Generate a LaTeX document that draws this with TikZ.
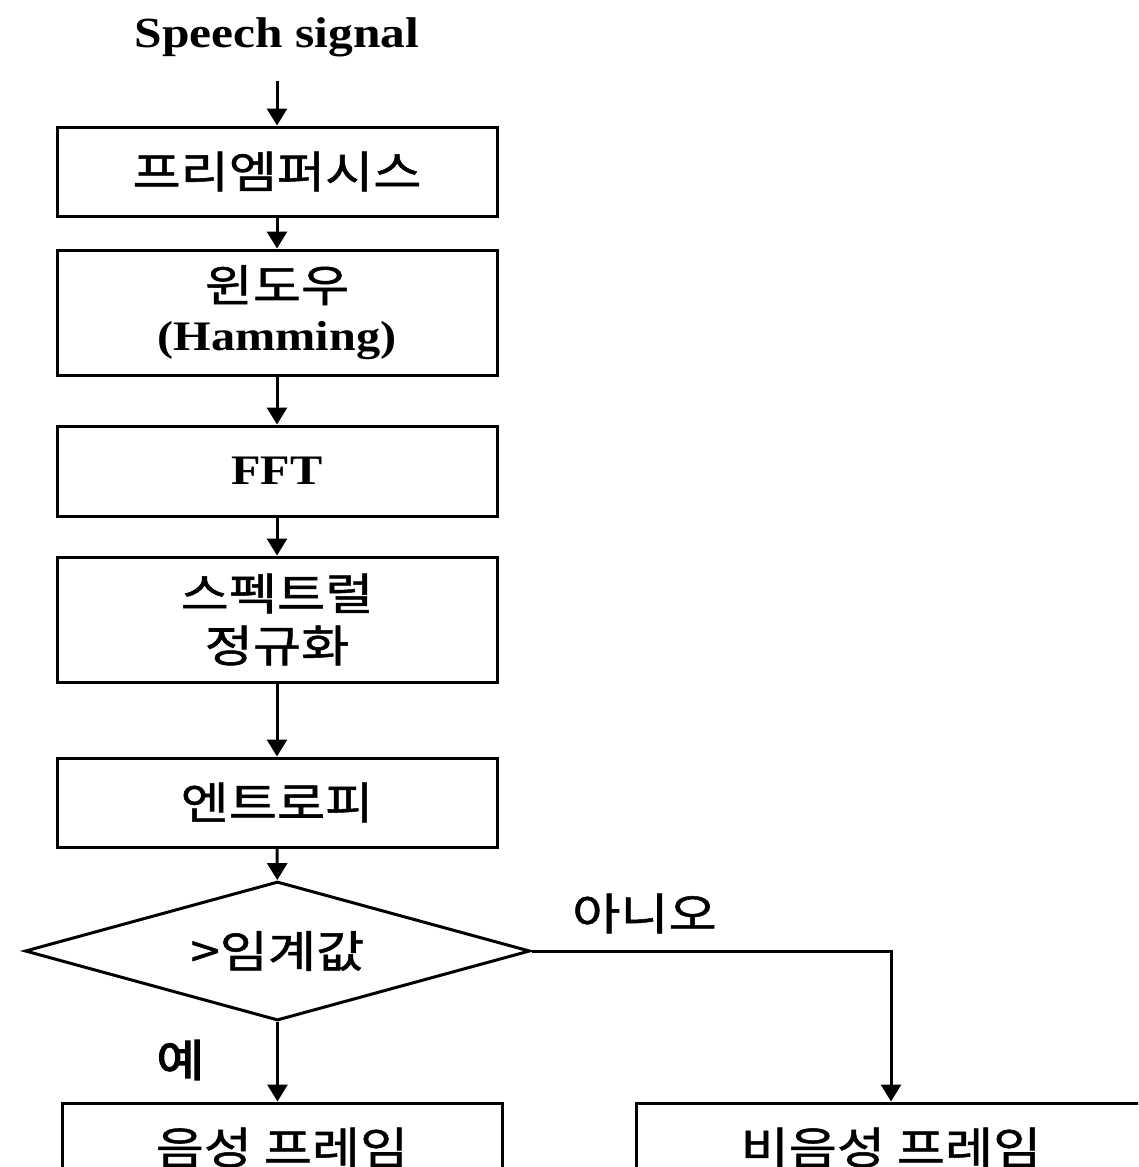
\documentclass[tikz,border=0pt]{standalone}
\usepackage{fontspec}
\usetikzlibrary{shapes.geometric,arrows.meta}
\newfontfamily\ko[FakeStretch=1.19,FakeBold=1.2]{Noto Sans CJK KR}
\newfontfamily\kob[FakeStretch=1.19,FakeBold=3]{Noto Sans CJK KR}
\newfontfamily\tb[FakeStretch=1.15]{Liberation Serif}
\begin{document}
\begin{tikzpicture}[x=1pt,y=-1pt, line width=3pt,
  box/.style={draw, rectangle, inner sep=0pt, align=center},
  arr/.style={-{Triangle[width=20pt,length=17pt]}},
  kt/.style={font=\ko\fontsize{44}{49}\selectfont},
  tt/.style={font=\tb\bfseries\fontsize{42}{47}\selectfont}]
\clip (0,0) rectangle (1138,1167);
\fill[white] (0,0) rectangle (1138,1167);

\node[font=\tb\bfseries\fontsize{43}{46}\selectfont, anchor=base] (sig) at (277,47) {Speech signal};
\node[box, minimum width=440pt, minimum height=89pt, kt] (b1) at (277,171.5) {\raisebox{-4pt}{프리엠퍼시스}};
\node[box, minimum width=440pt, minimum height=125pt, kt] (b2) at (277,312.5) {\raisebox{-5pt}{윈도우}\\{\tb\bfseries\fontsize{42}{47}\selectfont\raisebox{-5pt}{(Hamming)}}};
\node[box, minimum width=440pt, minimum height=90pt, tt] (b3) at (277,471) {FFT};
\node[box, minimum width=440pt, minimum height=125pt, font=\ko\fontsize{44}{52}\selectfont] (b4) at (277,619.5) {스펙트럴\\정규화};
\node[box, minimum width=440pt, minimum height=89pt, kt] (b5) at (277,802.5) {\raisebox{-3pt}{엔트로피}};
\node[draw, diamond, aspect=3.63, minimum width=505pt, minimum height=139pt, inner sep=0pt, kt] (dia) at (277.5,951) {>임계값};
\node[box, minimum width=440pt, minimum height=89pt, kt] (b6) at (282,1147.5) {음성 프레임};
\node[box, minimum width=510pt, minimum height=89pt, kt] (b7) at (891,1147.5) {비음성 프레임};

\node[kt] (no) at (644.5,913.5) {아니오};
\node[font=\kob\fontsize{44}{49}\selectfont] (yes) at (180.5,1060) {예};

\draw[arr, shorten <=20pt] (sig) -- (b1);
\draw[arr] (b1) -- (b2);
\draw[arr] (b2) -- (b3);
\draw[arr] (b3) -- (b4);
\draw[arr] (b4) -- (b5);
\draw[arr] (b5) -- (dia);
\draw[arr] (dia.south) -- (dia.south |- b6.north);
\draw[arr] (dia.east) -| (b7.north);
\end{tikzpicture}
\end{document}
